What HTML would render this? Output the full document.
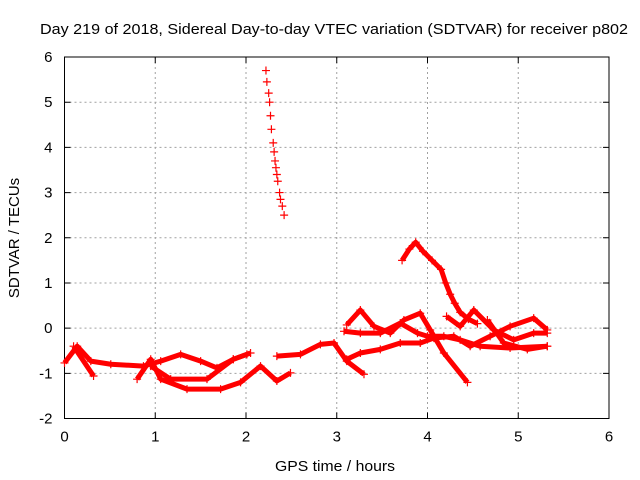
<!DOCTYPE html>
<html><head><meta charset="utf-8"><style>
body{margin:0;background:#fff}
svg{display:block;font-family:"Liberation Sans",sans-serif}
</style></head><body>
<svg id="chart" width="640" height="480" xmlns="http://www.w3.org/2000/svg">
<rect width="640" height="480" fill="#fff"/>
<text x="40" y="34" font-size="15" textLength="588" lengthAdjust="spacingAndGlyphs">Day 219 of 2018, Sidereal Day-to-day VTEC variation (SDTVAR) for receiver p802</text>
<g id="grid"></g>
<g id="axes"></g>
<g id="series"></g>
<text x="275" y="471" font-size="15" textLength="120" lengthAdjust="spacingAndGlyphs">GPS time / hours</text>
<text x="19" y="238" font-size="15" text-anchor="middle" transform="rotate(-90 19 238)">SDTVAR / TECUs</text>
</svg>
<script>
const xTicks=[0,1,2,3,4,5,6];
const yTicks=[-2,-1,0,1,2,3,4,5,6];
const trackSteep=[[2.22,5.7],[2.23,5.45],[2.25,5.2],[2.26,5.0],[2.27,4.7],[2.28,4.4],[2.3,4.1],[2.31,3.9],[2.32,3.7],[2.33,3.55],[2.34,3.4],[2.35,3.25],[2.37,3.0],[2.38,2.85],[2.4,2.7],[2.42,2.5]];
const trackPeak=[[3.72,1.5],[3.8,1.75],[3.87,1.9],[3.95,1.7],[4.05,1.5],[4.15,1.3],[4.2,1.0],[4.25,0.75],[4.3,0.55],[4.36,0.35],[4.45,0.2],[4.55,0.1]];
const trackL1=[[0,-0.77],[0.14,-0.4],[0.29,-0.73],[0.51,-0.8],[0.87,-0.84],[1.06,-0.73],[1.28,-0.58],[1.5,-0.73],[1.68,-0.88],[1.86,-0.69],[2.05,-0.55]];
const trackL1b=[[2.34,-0.62],[2.6,-0.58],[2.82,-0.36],[2.97,-0.33],[3.11,-0.73],[3.3,-1.02]];
const trackL2=[[0.8,-1.13],[0.95,-0.69],[1.06,-1.13],[1.35,-1.35],[1.72,-1.35],[1.94,-1.2],[2.16,-0.84],[2.34,-1.17],[2.49,-0.99]];
const trackL2b=[[0.1,-0.4],[0.32,-1.06]];
const trackL3=[[0.95,-0.84],[1.17,-1.13],[1.57,-1.13],[1.86,-0.69],[2.01,-0.58]];
const trackR1=[[3.08,-0.07],[3.26,-0.11],[3.48,-0.11],[3.7,0.11],[3.89,-0.11],[4.0,-0.18],[4.18,-0.18],[4.36,-0.26],[4.58,-0.4],[4.91,-0.44],[5.32,-0.4]];
const trackR2=[[3.11,0.07],[3.26,0.4],[3.41,0.04],[3.59,-0.11],[3.74,0.18],[3.92,0.33],[4.03,-0.04],[4.18,-0.55],[4.44,-1.2]];
const trackR3=[[3.11,-0.69],[3.26,-0.55],[3.48,-0.47],[3.7,-0.33],[3.92,-0.33],[4.07,-0.22],[4.29,-0.18],[4.47,-0.4],[4.69,-0.18],[4.91,0.04],[5.17,0.22],[5.32,-0.04]];
const trackR4=[[4.21,0.26],[4.36,0.04],[4.51,0.4],[4.73,-0.04],[4.95,-0.26],[5.17,-0.11],[5.32,-0.11]];
const trackR5=[[4.66,0.18],[4.84,-0.33],[5.1,-0.47],[5.32,-0.4]];

const L=64.5,R=609,T=57,B=418.5;
const xs=v=>L+(v-0)/6*(R-L);
const ys=v=>B-(v+2)/8*(B-T);
const NS="http://www.w3.org/2000/svg";
function mk(tag,attrs,parent){const e=document.createElementNS(NS,tag);for(const k in attrs)e.setAttribute(k,attrs[k]);parent.appendChild(e);return e;}
const grid=document.getElementById('grid'),axes=document.getElementById('axes'),ser=document.getElementById('series');
xTicks.forEach(t=>{
  const x=xs(t);
  if(t>0&&t<6){const g=mk('line',{x1:x,y1:T,x2:x,y2:B,stroke:'#a0a0a0','stroke-dasharray':'2,3'},grid);
  
  }
  const tk=mk('path',{d:`M${x},${B}v-6M${x},${T}v6`,stroke:'#000'},axes);
  
  
  const lb=mk('text',{x:x,y:B+23,'font-size':15,'text-anchor':'middle'},axes);
  lb.textContent=t;
  
  
});
yTicks.forEach(t=>{
  const y=ys(t);
  if(t>-2&&t<6){const g=mk('line',{x1:L,y1:y,x2:R,y2:y,stroke:'#a0a0a0','stroke-dasharray':'2,3'},grid);
  
  }
  const tk=mk('path',{d:`M${L},${y}h6M${R},${y}h-6`,stroke:'#000'},axes);
  
  
  const lb=mk('text',{x:L-12,y:y+5,'font-size':15,'text-anchor':'end'},axes);
  lb.textContent=t;
  
  
});
const frame=mk('rect',{x:L,y:T,width:R-L,height:B-T,fill:'none',stroke:'#000'},axes);


const tracks=[trackSteep,trackPeak,trackL1,trackL1b,trackL2,trackL2b,trackL3,trackR1,trackR2,trackR3,trackR4,trackR5];
tracks.forEach((tr,i)=>{
  if(i>0){const pl=mk('polyline',{points:tr.map(p=>xs(p[0])+','+ys(p[1])).join(' '),fill:'none',stroke:'#f00','stroke-width':5,'stroke-linejoin':'round'},ser);
  
  }
  tr.forEach(p=>{
    const x=xs(p[0]),y=ys(p[1]);
    const m=mk('path',{d:`M${x-4},${y}h8M${x},${y-4}v8`,stroke:'#f00','stroke-width':1.2},ser);
    
    
  });
});
</script>
</body></html>
